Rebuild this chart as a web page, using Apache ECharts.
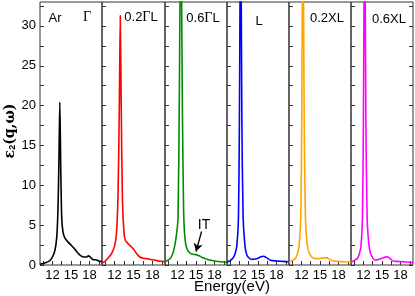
<!DOCTYPE html>
<html><head><meta charset="utf-8">
<script src="https://cdn.jsdelivr.net/npm/echarts@6/dist/echarts.min.js"></script>
<style>html,body{margin:0;padding:0;background:#fff}#c{width:415px;height:296px}</style>
</head><body><div id="c"></div>
<script>
// ---- data ----
const panelNames = ['Ar', '0.2ΓL', '0.6ΓL', 'L', '0.2XL', '0.6XL'];
const colors = ['#000000', '#ff0000', '#008c00', '#0000ff', '#ffa500', '#ff00ff'];
const xTickValues = [10.5, 12, 13.5, 15, 16.5, 18, 19.5];
const xLabelValues = [12, 15, 18];
const yTickValues = [0, 2.5, 5, 7.5, 10, 12.5, 15, 17.5, 20, 22.5, 25, 27.5, 30, 32.5];
const yLabelValues = [0, 5, 10, 15, 20, 25, 30];

const eAr = [10, 10.5, 11, 11.5, 12, 12.4, 12.7, 12.9, 13.05, 13.2, 13.35, 13.5, 13.7, 14.0, 14.5, 15.0, 15.5, 16.0, 16.5, 17.0, 17.5, 17.8, 18.1, 18.5, 19.0, 19.5, 20];
const vAr = [0.1, 0.2, 0.3, 0.5, 1.0, 1.8, 3.5, 7, 13, 20.4, 12, 6, 4.2, 3.4, 2.9, 2.5, 2.1, 1.6, 1.2, 1.0, 1.0, 1.15, 1.0, 0.7, 0.65, 0.5, 0.4];

const e02GL = [10, 10.5, 11, 11.5, 12, 12.3, 12.55, 12.75, 12.9, 13.05, 13.25, 13.5, 13.7, 14.0, 14.5, 15.0, 15.5, 16.0, 16.5, 17.0, 17.5, 18.0, 18.5, 19.0, 19.5, 20];
const v02GL = [0.2, 0.5, 0.9, 1.4, 2.4, 4, 9, 20, 31.3, 20, 8, 4, 3.1, 2.8, 2.4, 2.0, 1.4, 1.0, 0.85, 0.8, 0.75, 0.65, 0.6, 0.5, 0.45, 0.4];

const e06GL = [10, 10.5, 11, 11.4, 11.8, 12.1, 12.3, 12.55, 12.8, 13.0, 13.2, 13.5, 14.0, 14.5, 15.0, 15.5, 16.0, 16.5, 17.0, 18.0, 19.0, 20];
const v06GL = [0.4, 0.6, 1.0, 1.8, 3.5, 6, 20, 45, 20, 7, 3.5, 2.1, 1.5, 1.35, 1.3, 1.15, 0.95, 0.8, 0.65, 0.5, 0.4, 0.35];

const eL = [10, 10.5, 11, 11.3, 11.6, 11.85, 12.0, 12.2, 12.4, 12.6, 12.9, 13.2, 13.6, 14.0, 14.5, 15.0, 15.5, 15.9, 16.3, 17.0, 18.0, 19.0, 20];
const vL = [0.35, 0.55, 0.9, 1.4, 2.5, 6, 18, 45, 18, 6, 2.4, 1.25, 0.85, 0.7, 0.75, 0.85, 1.05, 1.1, 0.95, 0.6, 0.5, 0.45, 0.4];

const e02XL = [10, 10.5, 11, 11.3, 11.6, 11.9, 12.05, 12.25, 12.45, 12.65, 12.9, 13.1, 13.4, 13.7, 14.2, 14.8, 15.5, 16.1, 16.6, 17.1, 18, 19, 20];
const v02XL = [0.35, 0.55, 0.8, 1.3, 2.2, 6, 18, 45, 18, 6, 2.8, 1.9, 1.3, 1.0, 0.8, 0.8, 0.9, 0.9, 0.7, 0.5, 0.45, 0.4, 0.35];

const e06XL = [10, 10.5, 11, 11.3, 11.6, 11.85, 12.0, 12.2, 12.4, 12.6, 12.85, 13.1, 13.5, 13.9, 14.3, 14.7, 15.2, 15.8, 16.3, 16.8, 17.5, 18.4, 19.2, 20];
const v06XL = [0.35, 0.55, 0.8, 1.3, 2.3, 6, 18, 45, 18, 6, 2.8, 1.6, 0.9, 0.6, 0.65, 0.75, 0.9, 1.05, 0.8, 0.5, 0.45, 0.4, 0.35, 0.3];

const energies = [eAr, e02GL, e06GL, eL, e02XL, e06XL];
const values = [vAr, v02GL, v06GL, vL, v02XL, v06XL];

// IT arrow (data coordinates in panel 3)
const itArrowFrom = [15.9, 4.2];
const itArrowTo = [15.0, 1.7];

// ---- layout ----
const lefts = [40, 102, 165, 227, 289, 351];
const widths = [62, 63, 62, 62, 62, 62];
const FONT = 'Liberation Sans, Arial, sans-serif';

const grids = [], xAxes = [], yAxes = [], series = [];
for (let i = 0; i < 6; i++) {
  grids.push({left: lefts[i], width: widths[i], top: 2, height: 263, show: true,
    borderColor: '#333', borderWidth: 1, containLabel: false});
  xAxes.push({type: 'value', gridIndex: i, min: 10, max: 20,
    axisLine: {show: false}, splitLine: {show: false},
    axisTick: {inside: true, length: 4, lineStyle: {color: '#333'}, customValues: xTickValues},
    axisLabel: {customValues: xLabelValues, color: '#000', fontSize: 13, fontFamily: FONT, margin: 4}});
  yAxes.push({type: 'value', gridIndex: i, min: 0, max: 33, position: 'left',
    axisLine: {show: false}, splitLine: {show: false},
    axisTick: {inside: true, length: 4, lineStyle: {color: '#333'}, customValues: yTickValues},
    axisLabel: {show: i === 0, customValues: yLabelValues, color: '#000', fontSize: 13, fontFamily: FONT, margin: 4}});
  const s = {type: 'line', xAxisIndex: i, yAxisIndex: i, symbol: 'none', smooth: 0.25,
    clip: true, lineStyle: {color: colors[i], width: 1.6}, itemStyle: {color: colors[i]},
    data: energies[i].map((e, k) => [e, values[i][k]])};
  if (i === 2) {
    s.markLine = {silent: true, symbol: ['none', 'arrow'], symbolSize: [7, 8],
      lineStyle: {color: '#000', width: 1.3, type: 'solid'}, label: {show: false},
      data: [[{coord: itArrowFrom}, {coord: itArrowTo}]]};
  }
  series.push(s);
}
// right-side ticks on last panel
yAxes.push({type: 'value', gridIndex: 5, min: 0, max: 33, position: 'right',
  axisLine: {show: false}, splitLine: {show: false},
  axisTick: {inside: true, length: 4, lineStyle: {color: '#333'}, customValues: yTickValues},
  axisLabel: {show: false}});

const txt = (x, y, text, extra) => Object.assign({type: 'text', x, y,
  style: Object.assign({text, fontSize: 13, fontFamily: FONT, fill: '#000', align: 'center', verticalAlign: 'middle'}, extra || {})});

const serifRich = {g: {fontFamily: 'Liberation Serif, Times New Roman, serif', fontSize: 14}};
const graphic = [
  txt(55, 18, panelNames[0]),
  txt(87, 17, 'Γ', {fontFamily: 'Liberation Serif, Times New Roman, serif', fontSize: 14}),
  txt(141, 17, '0.2{g|Γ}L', {rich: serifRich}),
  txt(203, 18, '0.6{g|Γ}L', {rich: serifRich}),
  txt(259, 21, panelNames[3]),
  txt(327, 18, panelNames[4]),
  txt(389, 19, panelNames[5]),
  txt(204, 225, 'IT', {fontSize: 14}),
  txt(232, 287, 'Energy(eV)', {fontSize: 15}),
  {type: 'text', x: 10, y: 131, rotation: Math.PI / 2,
    style: {text: '{e|ε}{s|2}{e|(}{q|q}{e|,ω)}', align: 'center', verticalAlign: 'middle', fill: '#000',
      rich: {
        e: {fontSize: 14, fontWeight: 'bold', fontFamily: 'DejaVu Serif, serif'},
        q: {fontSize: 14, fontWeight: 'bold', fontFamily: 'DejaVu Serif, serif'},
        s: {fontSize: 9, fontWeight: 'bold', fontFamily: FONT, verticalAlign: 'bottom', padding: [6, 0, 0, 0]}
      }}}
];

const chart = echarts.init(document.getElementById('c'), null, {renderer: 'canvas'});
chart.setOption({animation: false, backgroundColor: '#fff', grid: grids, xAxis: xAxes, yAxis: yAxes, series, graphic});
</script></body></html>
